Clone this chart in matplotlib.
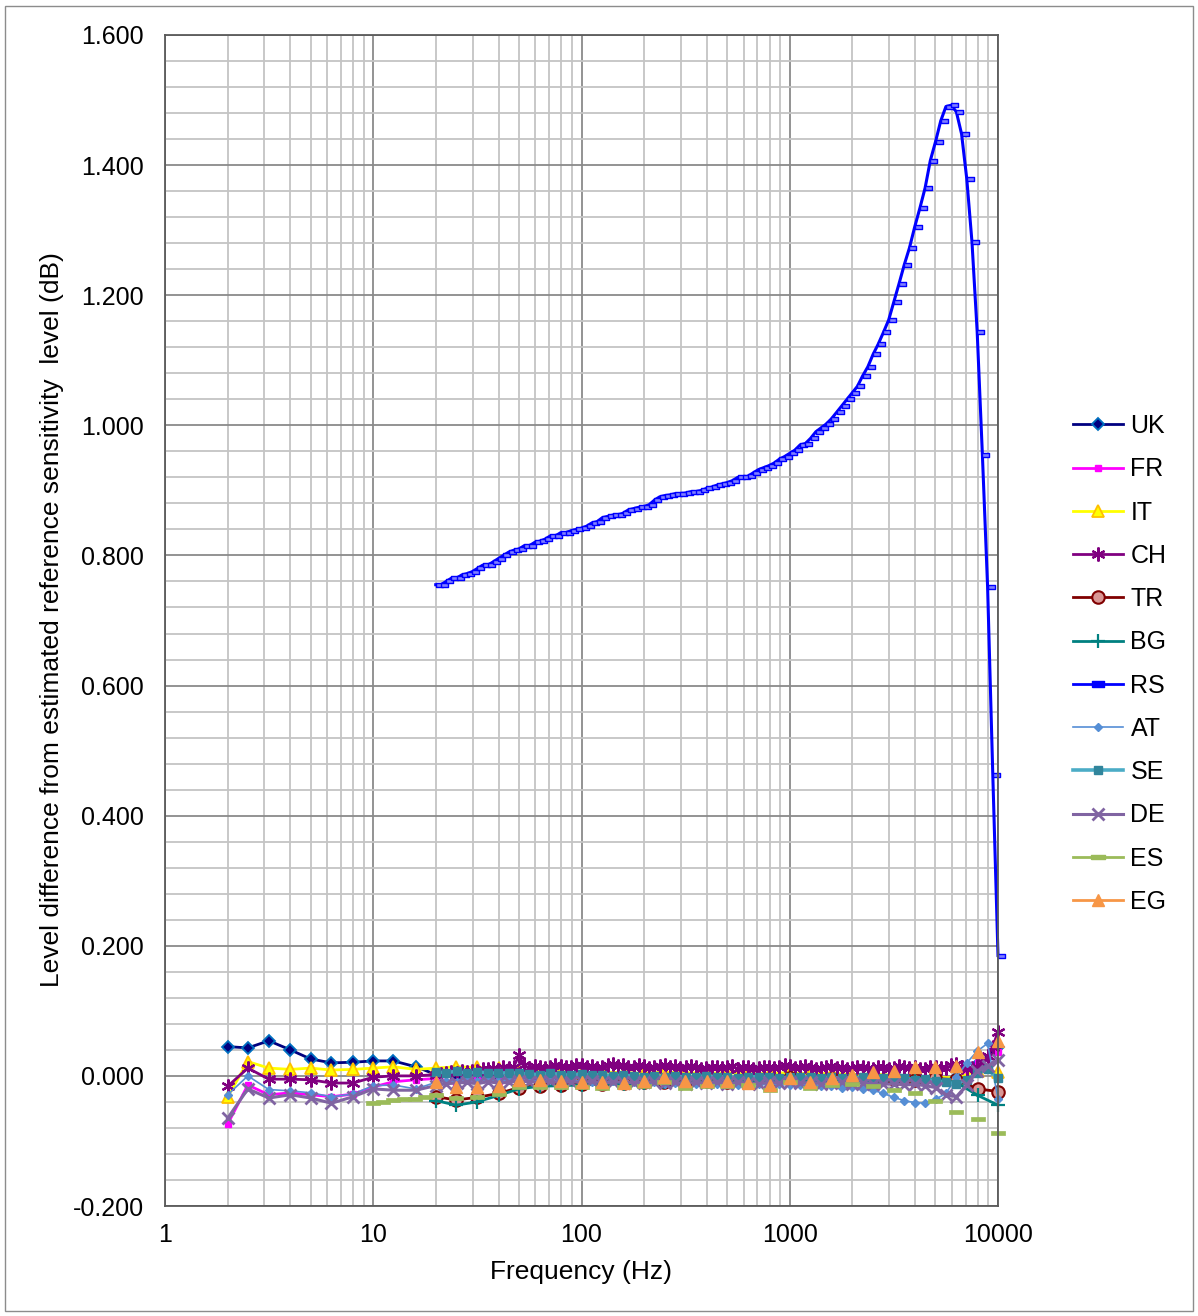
import numpy as np
import matplotlib
matplotlib.use("Agg")
import matplotlib.pyplot as plt
from matplotlib.lines import Line2D
from matplotlib.patches import Rectangle
from matplotlib.ticker import LogLocator, MultipleLocator, FuncFormatter, NullFormatter

plt.rcParams['font.family'] = ['Liberation Sans', 'DejaVu Sans']

# ---------------------------------------------------------------- frequencies
F_LOW = [2, 2.5, 3.15, 4, 5, 6.3, 8, 10, 12.5, 16]
F_THIRD = [20, 25, 31.5, 40, 50, 63, 80, 100, 125, 160, 200, 250, 315, 400,
           500, 630, 800, 1000, 1250, 1600, 2000, 2500, 3150, 4000, 5000,
           6300, 8000, 10000]
F_SIXTH = list(10 ** (np.arange(52, 161, 2) / 40))      # 1/6-octave, 20 Hz - 10 kHz
F_TWELFTH = list(10 ** (np.arange(52, 161) / 40))       # 1/12-octave, 20 Hz - 10 kHz
F_ES_LOW = [10, 11.2, 12.5, 14.1, 15.8, 17.8]

# ---------------------------------------------------------------- level differences (dB)
UK_LOW = [0.045, 0.043, 0.054, 0.040, 0.026, 0.020, 0.021, 0.023, 0.023, 0.014]
UK_HI = [0.002, -0.002, 0.000, -0.003, -0.002, -0.004, -0.003, -0.004, -0.005, -0.004,
         -0.005, -0.004, -0.006, -0.005, -0.004, -0.006, -0.005, -0.004, -0.006, -0.005,
         -0.004, -0.006, -0.005, -0.007, -0.006, -0.004, 0.018, 0.045]

FR_LOW = [-0.074, -0.014, -0.029, -0.026, -0.029, -0.032, -0.028, -0.017, -0.009, -0.006]
FR_HI = [-0.004, -0.010, -0.006, -0.008, -0.007, -0.008, -0.009, -0.008, -0.010, -0.009,
         -0.008, -0.010, -0.009, -0.008, -0.010, -0.009, -0.011, -0.009, -0.010, -0.008,
         -0.009, -0.010, -0.008, -0.011, -0.010, -0.006, 0.020, 0.037]

IT_LOW = [-0.032, 0.022, 0.012, 0.010, 0.012, 0.009, 0.010, 0.012, 0.014, 0.010]
IT_HI = [0.012, 0.014, 0.013, 0.012, 0.008, 0.007, 0.006, 0.005, 0.006, 0.005,
         0.004, 0.006, 0.005, 0.004, 0.005, 0.003, 0.004, 0.005, 0.003, 0.004,
         0.002, 0.003, 0.001, 0.000, -0.002, -0.003, 0.008, 0.006]

CH_LOW = [-0.016, 0.012, -0.005, -0.005, -0.006, -0.011, -0.011, -0.002, 0.000, 0.000]
CH_HI = [0.002, 0.003, 0.004, 0.006, 0.005, 0.007, 0.006, 0.008, 0.008, 0.011,
         0.010, 0.012, 0.009, 0.013, 0.012, 0.014, 0.032, 0.016, 0.012, 0.015,
         0.014, 0.012, 0.013, 0.016, 0.015, 0.013, 0.014, 0.017, 0.016, 0.014,
         0.015, 0.012, 0.013, 0.016, 0.018, 0.015, 0.016, 0.013, 0.014, 0.016,
         0.015, 0.012, 0.013, 0.015, 0.016, 0.014, 0.015, 0.012, 0.013, 0.015,
         0.014, 0.011, 0.012, 0.014, 0.014, 0.012, 0.013, 0.015, 0.011, 0.013,
         0.013, 0.011, 0.012, 0.014, 0.014, 0.012, 0.013, 0.016, 0.015, 0.012,
         0.013, 0.015, 0.014, 0.011, 0.012, 0.014, 0.015, 0.012, 0.013, 0.011,
         0.012, 0.014, 0.014, 0.012, 0.011, 0.013, 0.013, 0.011, 0.012, 0.015,
         0.014, 0.012, 0.013, 0.011, 0.011, 0.014, 0.014, 0.012, 0.012, 0.016,
         0.018, 0.013, 0.010, 0.012, 0.014, 0.022, 0.030, 0.045, 0.068]

TR_HI = [-0.032, -0.037, -0.033, -0.027, -0.018, -0.015, -0.014, -0.012, -0.013, -0.011,
         -0.010, -0.009, -0.010, -0.008, -0.009, -0.006, -0.007, -0.004, -0.006, -0.005,
         -0.006, -0.007, -0.005, -0.006, -0.004, -0.006, -0.020, -0.024]

BG_HI = [-0.038, -0.045, -0.040, -0.030, -0.020, -0.016, -0.015, -0.014, -0.013, -0.012,
         -0.011, -0.010, -0.011, -0.009, -0.010, -0.008, -0.009, -0.007, -0.008, -0.007,
         -0.008, -0.008, -0.006, -0.004, -0.006, -0.010, -0.030, -0.045]

RS = [0.755, 0.755, 0.760, 0.765, 0.765, 0.770, 0.772, 0.775, 0.780, 0.785,
      0.785, 0.790, 0.795, 0.800, 0.805, 0.808, 0.810, 0.815, 0.815, 0.820,
      0.822, 0.825, 0.830, 0.830, 0.835, 0.835, 0.838, 0.840, 0.842, 0.845,
      0.850, 0.852, 0.858, 0.860, 0.862, 0.862, 0.865, 0.870, 0.872, 0.874,
      0.875, 0.878, 0.885, 0.890, 0.892, 0.893, 0.895, 0.895, 0.896, 0.898,
      0.898, 0.900, 0.903, 0.905, 0.908, 0.910, 0.912, 0.915, 0.920, 0.920,
      0.922, 0.927, 0.932, 0.935, 0.938, 0.942, 0.948, 0.952, 0.957, 0.962,
      0.970, 0.972, 0.980, 0.990, 0.996, 1.002, 1.010, 1.020, 1.030, 1.040,
      1.050, 1.060, 1.076, 1.090, 1.109, 1.125, 1.143, 1.162, 1.190, 1.218,
      1.247, 1.273, 1.305, 1.334, 1.365, 1.407, 1.436, 1.468, 1.490, 1.492,
      1.482, 1.448, 1.379, 1.282, 1.144, 0.955, 0.752, 0.463, 0.185]

AT_LOW = [-0.029, 0.000, -0.021, -0.023, -0.026, -0.032, -0.028, -0.015, -0.014, -0.020]
AT_HI = [-0.010, -0.008, -0.009, -0.007, -0.008, -0.006, -0.008, -0.007, -0.006,
         -0.007, -0.008, -0.006, -0.009, -0.007, -0.008, -0.010, -0.009, -0.008, -0.010,
         -0.009, -0.011,
         -0.010, -0.012, -0.011, -0.010, -0.012, -0.011, -0.013, -0.012, -0.014, -0.013,
         -0.012, -0.014, -0.013, -0.014,
         -0.014, -0.013, -0.015, -0.016, -0.018, -0.017, -0.020,
         -0.022, -0.027, -0.033, -0.038, -0.041, -0.042, -0.036, -0.027, -0.002, 0.020,
         0.038, 0.050, -0.035]

SE_HI = [0.006, 0.005, 0.007, 0.004, 0.006, 0.005, 0.004, 0.005, 0.004,
         0.003, 0.002, 0.004, 0.002, 0.001, 0.003, 0.001, 0.002, 0.000, 0.001, 0.000,
         -0.001,
         0.000, -0.001, 0.000, -0.002, -0.001, 0.000, -0.002, -0.001, -0.003, -0.002,
         -0.001, -0.002, -0.003, -0.002,
         -0.002, -0.001, -0.003, -0.002, -0.004, -0.003, -0.002,
         -0.004, -0.003, -0.005, -0.004, -0.006, -0.005, -0.008, -0.010, -0.012, -0.006,
         0.004, 0.010, -0.004]

DE_LOW = [-0.065, -0.020, -0.034, -0.029, -0.034, -0.042, -0.032, -0.020, -0.022, -0.022]
DE_HI = [-0.015, -0.012, -0.011, -0.010, -0.012, -0.009, -0.011, -0.010, -0.008,
         -0.009, -0.010, -0.008, -0.011, -0.009, -0.010, -0.008, -0.011, -0.010, -0.009,
         -0.011, -0.010,
         -0.009, -0.011, -0.010, -0.012, -0.010, -0.011, -0.009, -0.012, -0.010, -0.011,
         -0.012, -0.010, -0.011, -0.009,
         -0.011, -0.010, -0.012, -0.011, -0.010, -0.012, -0.011,
         -0.012, -0.013, -0.012, -0.014, -0.013, -0.015, -0.018, -0.029, -0.032, -0.014,
         0.007, 0.015, 0.025]

ES_LOW = [-0.042, -0.040, -0.037, -0.036, -0.036, -0.033]
ES_HI = [-0.029, -0.034, -0.032, -0.028, -0.017, -0.017, -0.017, -0.017, -0.018, -0.017,
         -0.015, -0.010, -0.019, -0.015, -0.016, -0.014, -0.021, -0.010, -0.019, -0.014,
         -0.013, -0.015, -0.022, -0.027, -0.038, -0.055, -0.066, -0.088]

EG_HI = [-0.009, -0.017, -0.017, -0.016, -0.006, -0.007, -0.008, -0.009, -0.010, -0.011,
         -0.008, -0.002, -0.008, -0.008, -0.008, -0.011, -0.014, -0.003, -0.010, -0.004,
         0.001, 0.006, 0.007, 0.013, 0.014, 0.015, 0.036, 0.053]

# ---------------------------------------------------------------- marker shapes
RS_MARK = [(0, -1), (4, -1), (4, 1), (0, 1), (0, -1)]          # box to the right of the point
RS_MARK_C = [(-2, -1), (2, -1), (2, 1), (-2, 1), (-2, -1)]     # centred box for the key
ES_MARK = [(-3.5, -1), (3.5, -1), (3.5, 1), (-3.5, 1), (-3.5, -1)]
ASTER = (6, 2, 0)

fig = plt.figure(figsize=(11.98, 13.16), dpi=100)
ax = fig.add_axes([165 / 1198, 1 - 1206 / 1316, (998 - 165) / 1198, (1206 - 35) / 1316])

fig.patches.append(Rectangle((5 / 1198, 5 / 1316), 1188 / 1198, 1305 / 1316,
                             transform=fig.transFigure, fill=False,
                             edgecolor='#8c8c8c', linewidth=1.0))

series = []

def draw(label, x, y, color, lw=2.0, **kw):
    ln, = ax.plot(x, y, color=color, lw=lw, label=label, clip_on=False, **kw)
    series.append(ln)
    return ln

draw('UK', F_LOW + F_THIRD, UK_LOW + UK_HI, '#000080', marker='D', ms=6,
     mfc='#000080', mec='#0070C0', mew=1.3)
draw('FR', F_LOW + F_THIRD, FR_LOW + FR_HI, '#FF00FF', marker='s', ms=4.2,
     mfc='#FF00FF', mec='#FF00FF')
draw('IT', F_LOW + F_THIRD, IT_LOW + IT_HI, '#FFFF00', marker='^', ms=9,
     mfc='#FFFF00', mec='#FFC000', mew=1.3)
draw('CH', F_LOW + F_TWELFTH, CH_LOW + CH_HI, '#800080', marker=ASTER, ms=10,
     mec='#800080', mew=1.6)
draw('TR', F_THIRD, TR_HI, '#800000', marker='o', ms=9,
     mfc='#D99694', mec='#800000', mew=1.5)
draw('BG', F_THIRD, BG_HI, '#008080', marker='+', ms=10, mec='#008080', mew=1.6)
rs_line = draw('RS', F_TWELFTH, RS, '#0000FF', lw=2.2, marker=RS_MARK, ms=10,
               mfc='#8080FF', mec='#0000FF', mew=1.0)
draw('AT', F_LOW + F_SIXTH, AT_LOW + AT_HI, '#558ED5', lw=1.2, marker='D', ms=3.8,
     mfc='#558ED5', mec='#558ED5')
draw('SE', F_SIXTH, SE_HI, '#4BACC6', lw=2.6, marker='s', ms=5.5,
     mfc='#31859C', mec='#31859C')
draw('DE', F_LOW + F_SIXTH, DE_LOW + DE_HI, '#8064A2', lw=2.2, marker='x', ms=8.5,
     mec='#8064A2', mew=2.0)
ax.plot(F_ES_LOW + F_THIRD, ES_LOW + ES_HI, ls='none', marker=ES_MARK, ms=10,
        mfc='#9BBB59', mec='#9BBB59', mew=0.5, clip_on=False)
draw('EG', F_THIRD, EG_HI, '#F79646', lw=2.0, ls='none', marker='^', ms=9,
     mfc='#F79646', mec='#F79646')

# ---------------------------------------------------------------- axes
ax.set_xscale('log')
ax.set_xlim(1, 10000)
ax.set_ylim(-0.2, 1.6)
ax.xaxis.set_major_locator(LogLocator(base=10, numticks=10))
ax.xaxis.set_minor_locator(LogLocator(base=10, subs=np.arange(2, 10), numticks=20))
ax.xaxis.set_major_formatter(FuncFormatter(lambda v, p: f'{v:g}'))
ax.xaxis.set_minor_formatter(NullFormatter())
ax.yaxis.set_major_locator(MultipleLocator(0.2))
ax.yaxis.set_minor_locator(MultipleLocator(0.04))
ax.yaxis.set_major_formatter(FuncFormatter(lambda v, p: f'{v:.3f}'))

ax.grid(which='major', color='#8a8a8a', lw=1.3)
ax.grid(which='minor', color='#c4c4c4', lw=1.3)
ax.set_axisbelow(True)
ax.tick_params(which='both', length=0)
ax.tick_params(axis='y', pad=15, labelsize=18)
ax.tick_params(axis='x', pad=12, labelsize=18)
for s in ax.spines.values():
    s.set_color('#5a5a5a')
    s.set_linewidth(1.3)

fig.text(52 / 1198, 1 - 620 / 1316,
         'Level difference from estimated reference sensitivity  level (dB)',
         rotation=90, ha='center', va='center', fontsize=19)
fig.text(581 / 1198, 1 - 1272 / 1316, 'Frequency (Hz)',
         ha='center', va='center', fontsize=19)

# ---------------------------------------------------------------- key
handles = []
for ln in series:
    h = Line2D([], [], color=ln.get_color(), lw=ln.get_linewidth(),
               marker=ln.get_marker(), ms=ln.get_markersize(),
               mfc=ln.get_markerfacecolor(), mec=ln.get_markeredgecolor(),
               mew=ln.get_markeredgewidth())
    if ln is rs_line:
        h = Line2D([], [], color='#0000FF', lw=2.0, marker=RS_MARK_C, ms=8,
                   mfc='#0000FF', mec='#0000FF')
    handles.append(h)
labels = [ln.get_label() for ln in series]
es_handle = Line2D([], [], color='#9BBB59', lw=2.0, marker=ES_MARK, ms=10,
                   mfc='#9BBB59', mec='#9BBB59')
eg_handle = Line2D([], [], color='#F79646', lw=2.0, marker='^', ms=9,
                   mfc='#F79646', mec='#F79646')
handles = handles[:-1] + [es_handle, eg_handle]
labels = labels[:-1] + ['ES', 'EG']

fig.legend(handles, labels, loc='center left',
           bbox_to_anchor=(1063 / 1198, 1 - 664 / 1316),
           frameon=False, fontsize=18, handlelength=2.0, handletextpad=0.3,
           labelspacing=0.77, borderaxespad=0)

fig.savefig('out.png', dpi=100)
